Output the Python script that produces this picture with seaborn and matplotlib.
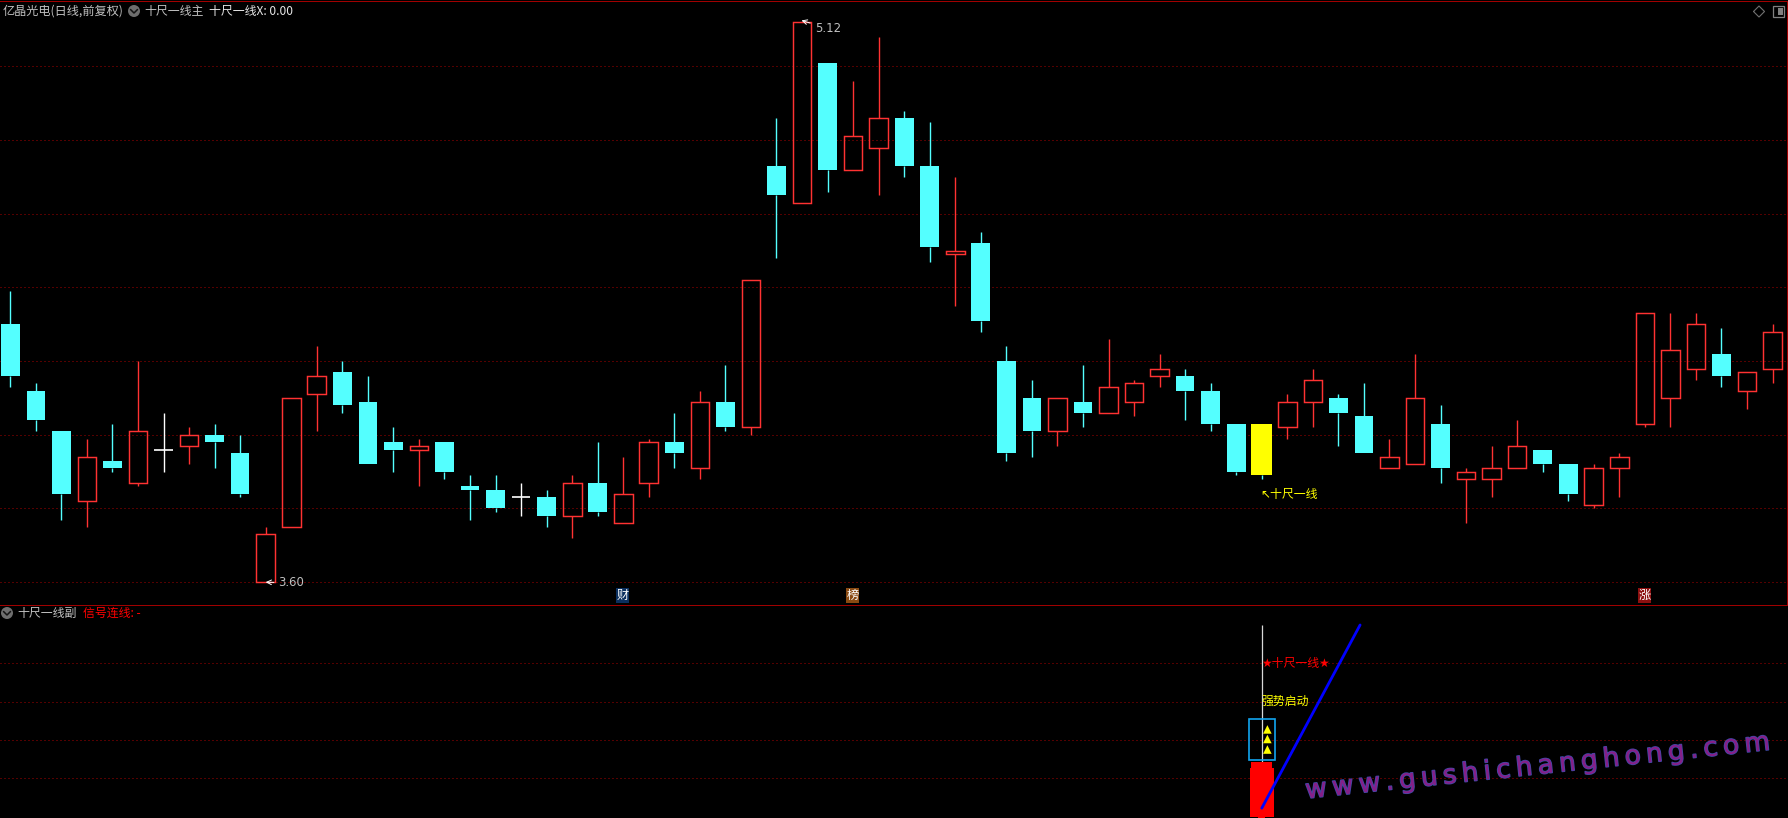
import matplotlib
matplotlib.use("Agg")
import matplotlib.pyplot as plt
import matplotlib.patheffects as pe
from matplotlib.lines import Line2D
from matplotlib.patches import Ellipse, Rectangle
import pandas as pd
import seaborn as sns

sns.set_theme(style="dark")
plt.rcParams['font.family'] = ['Noto Sans CJK SC', 'DejaVu Sans']

# Daily prices (first bars on the left to last bars on the right)
opens = [4.30,4.12,4.01,3.82,3.93,3.87,3.96,3.97,4.00,3.95,3.60,3.75,4.11,4.17,4.09,3.98,3.96,3.98,3.86,3.85,
         3.83,3.83,3.78,3.87,3.76,3.87,3.98,3.91,4.09,4.02,4.73,4.63,5.01,4.72,4.78,4.86,4.73,4.49,4.52,4.20,
         4.10,4.01,4.09,4.06,4.09,4.16,4.16,4.12,4.03,4.03,4.02,4.09,4.10,4.05,3.91,3.92,4.03,3.88,3.88,3.91,
         3.96,3.92,3.81,3.91,4.03,4.10,4.18,4.22,4.12,4.18]
closes = [4.16,4.04,3.84,3.94,3.91,4.01,3.96,4.00,3.98,3.84,3.73,4.10,4.16,4.08,3.92,3.96,3.97,3.90,3.85,3.80,
          3.83,3.78,3.87,3.79,3.84,3.98,3.95,4.09,4.02,4.42,4.65,5.12,4.72,4.81,4.86,4.73,4.51,4.50,4.31,3.95,
          4.01,4.10,4.06,4.13,4.14,4.18,4.12,4.03,3.90,3.89,4.09,4.15,4.06,3.95,3.94,4.10,3.91,3.90,3.91,3.97,
          3.92,3.84,3.91,3.94,4.33,4.23,4.30,4.16,4.17,4.28]
highs = [4.39,4.14,4.01,3.99,4.03,4.20,4.06,4.02,4.03,4.00,3.75,4.10,4.24,4.20,4.16,4.02,3.99,3.98,3.89,3.89,
         3.87,3.85,3.89,3.98,3.94,3.99,4.06,4.12,4.19,4.42,4.86,5.12,5.01,4.96,5.08,4.88,4.85,4.70,4.55,4.24,
         4.15,4.10,4.19,4.26,4.15,4.22,4.18,4.14,4.03,4.03,4.11,4.18,4.11,4.14,3.99,4.22,4.08,3.91,3.97,4.04,
         3.96,3.92,3.92,3.95,4.33,4.33,4.33,4.29,4.17,4.30]
lows = [4.13,4.01,3.77,3.75,3.90,3.86,3.90,3.92,3.91,3.83,3.60,3.75,4.01,4.06,3.92,3.90,3.86,3.88,3.77,3.79,
        3.78,3.75,3.72,3.78,3.76,3.83,3.91,3.88,4.01,4.00,4.48,4.63,4.66,4.72,4.65,4.70,4.47,4.35,4.28,3.93,
        3.94,3.97,4.02,4.06,4.05,4.13,4.04,4.01,3.89,3.88,3.99,4.02,3.97,3.95,3.91,3.92,3.87,3.76,3.83,3.91,
        3.90,3.82,3.80,3.83,4.02,4.02,4.15,4.13,4.07,4.14]

price_grid = [3.6, 3.8, 4.0, 4.2, 4.4, 4.6, 4.8, 5.0]
signal_grid = [20, 40, 60, 80]
signal_day = 49
signal_line_x = [49, 52.85]
signal_line_y = [4.4, 100]
triangle_levels = [35, 40.5, 45.5]
block_low, block_mid, block_high = 0, 25.3, 28.5
price_low, price_high = 3.60, 5.12
low_day, high_day = 10, 31
badge_days = [24, 33, 64]
badge_labels = ['财', '榜', '涨']
badge_colors = ['#0b2f5e', '#8a4a12', '#8c1010']

df = pd.DataFrame({'open': opens, 'close': closes, 'high': highs, 'low': lows})
df['day'] = range(len(df))

RED, CYAN, YELLOW, GREY = '#ff3232', '#54ffff', '#ffff00', '#c0c0c0'
GRID = '#a80000'
W, H = 1788, 818
fig = plt.figure(figsize=(W / 100, H / 100), dpi=100, facecolor='black')
top = fig.add_axes([0, 1 - 605 / H, 1, 603 / H])
bot = fig.add_axes([0, 0, 1, 212 / H])
xlim = (-10.3 / 25.54, (W - 10.3) / 25.54)
for ax in (top, bot):
    ax.set_facecolor('black')
    ax.set_xlim(*xlim)
    ax.set_xticks([]); ax.set_yticks([])
    ax.set_xlabel(''); ax.set_ylabel('')
    for s in ax.spines.values():
        s.set_visible(False)
top.set_ylim(3.538, 5.175)
bot.set_ylim(-0.73, 109.9)

for v in price_grid:
    top.axhline(v, color=GRID, lw=0.72, ls=(0, (1, 3)), zorder=1)
for v in signal_grid:
    bot.axhline(v, color=GRID, lw=0.72, ls=(0, (1, 3)), zorder=1)

# candles
bw = 0.73
for r in df.itertuples():
    t, b = max(r.open, r.close), min(r.open, r.close)
    if r.open == r.close:
        c = 'white'
        top.vlines(r.day, r.low, r.high, color=c, lw=1.0, zorder=3)
        top.hlines(t, r.day - bw / 2, r.day + bw / 2, color=c, lw=1.2, zorder=3)
        continue
    up = r.close > r.open
    c = RED if up else CYAN
    top.vlines(r.day, t, r.high, color=c, lw=1.0, zorder=3)
    top.vlines(r.day, r.low, b, color=c, lw=1.0, zorder=3)
    if r.day == signal_day:
        # the highlighted day is drawn below as solid yellow
        continue
    if up:
        top.add_patch(Rectangle((r.day - bw / 2, b), bw, t - b, fill=False, ec=c, lw=1.05, zorder=4))
    else:
        top.add_patch(Rectangle((r.day - bw / 2, b), bw, t - b, fc=c, ec='none', zorder=4))
sd = df.loc[signal_day]
top.bar(signal_day, abs(sd.open - sd.close), bottom=min(sd.open, sd.close), width=0.82,
        color=YELLOW, lw=0, zorder=5)

# price extremes
top.annotate('%.2f' % price_low, xy=(low_day, price_low), xytext=(low_day + 0.50, price_low - 0.002),
             color=GREY, fontsize=8.4, va='center', ha='left', family='DejaVu Sans', zorder=6,
             arrowprops=dict(arrowstyle='->', color='white', lw=0.7, shrinkA=1, shrinkB=0))
top.annotate('%.2f' % price_high, xy=(high_day - 0.02, price_high + 0.005), xytext=(high_day + 0.50, price_high - 0.017),
             color=GREY, fontsize=8.4, va='center', ha='left', family='DejaVu Sans', zorder=6,
             arrowprops=dict(arrowstyle='->', color='white', lw=0.7, shrinkA=1, shrinkB=0))
top.text(signal_day - 0.05, 3.838, '↖十尺一线', color=YELLOW, fontsize=8.6, va='center', ha='left',
         family=['DejaVu Sans', 'Noto Sans CJK SC'], zorder=6)

# event badges
for d, lab, col in zip(badge_days, badge_labels, badge_colors):
    top.text(d - 0.02, 3.546, lab, color='white', fontsize=8.8, ha='center', va='bottom', zorder=6,
             bbox=dict(boxstyle='square,pad=0.05', fc=col, ec='none'))

# lower panel
bot.vlines(signal_day, block_high, 100.2, color='#d8d8d8', lw=0.9, zorder=2)
bot.bar(signal_day, block_high - block_low, bottom=block_low, width=0.82, color='#ff0000', lw=0, zorder=3)
bot.bar(signal_day, block_mid - block_low, bottom=block_low, width=0.93, color='#ff0000', lw=0, zorder=3)
bot.bar(signal_day, 1.5, bottom=-1.0, width=0.28, color='#ff0000', lw=0, zorder=3)
bot.add_patch(Rectangle((signal_day - 0.51, 29.3), 1.02, 21.6, fill=False, ec='#12a5f0', lw=1.2, zorder=4))
tri = pd.DataFrame({'x': [signal_day + 0.22] * 3, 'y': triangle_levels})
sns.scatterplot(data=tri, x='x', y='y', marker='^', s=38, color=YELLOW, edgecolor='none', ax=bot, zorder=5, legend=False)
line = pd.DataFrame({'x': signal_line_x, 'y': signal_line_y})
sns.lineplot(data=line, x='x', y='y', color='#0000ff', lw=2.0, ax=bot, zorder=6, legend=False)
bot.set_xlabel(''); bot.set_ylabel('')
bot.set_xlim(*xlim); bot.set_ylim(-0.73, 109.9)
bot.text(signal_day - 0.02, 80, '★十尺一线★', color='#ff0000', fontsize=8.6, va='center', ha='left',
         family=['DejaVu Sans', 'Noto Sans CJK SC'], zorder=7)
bot.text(signal_day - 0.02, 60, '强势启动', color=YELLOW, fontsize=8.6, va='center', ha='left', zorder=7)

# header texts
def ftext(px, py, s, color, **kw):
    fig.text(px / W, 1 - py / H, s, color=color, fontsize=kw.pop('fontsize', 8.6), va='center', ha='left', **kw)

def chevron(px, py):
    fig.add_artist(Ellipse((px / W, 1 - py / H), 12 / W, 12 / H, fc='#6e6e6e', ec='none',
                           transform=fig.transFigure))
    fig.add_artist(Line2D([(px - 3.5) / W, px / W, (px + 3.5) / W],
                          [1 - (py - 1.5) / H, 1 - (py + 2) / H, 1 - (py - 1.5) / H],
                          color='#141414', lw=1.1, transform=fig.transFigure))

ftext(3, 11, '亿晶光电(日线,前复权)', GREY, fontsize=8.75)
chevron(134, 11)
ftext(144, 11, '十尺一线主', GREY)
ftext(209, 11, '十尺一线X: 0.00', '#e6e6e6')
chevron(7, 613)
ftext(17, 613, '十尺一线副', GREY)
ftext(83, 613, '信号连线: -', '#ff0000')

fig.add_artist(Line2D([1753.5 / W, 1759 / W, 1764.5 / W, 1759 / W, 1753.5 / W],
                      [1 - 11.5 / H, 1 - 6 / H, 1 - 11.5 / H, 1 - 17 / H, 1 - 11.5 / H],
                      color='#707070', lw=0.8, transform=fig.transFigure))
fig.patches.append(Rectangle((1772.5 / W, 1 - 17 / H), 11 / W, 11 / H, fill=False, ec='#808080', lw=0.9,
                             transform=fig.transFigure))
fig.patches.append(Rectangle((1778 / W, 1 - 15 / H), 4.5 / W, 7 / H, fc='#808080', ec='none',
                             transform=fig.transFigure))

# frame
fig.patches.append(Rectangle((0, 1 - 2 / H), 1, 1 / H, fc='#a00000', ec='none', transform=fig.transFigure))
fig.patches.append(Rectangle((0, 1 - 606 / H), 1, 1 / H, fc='#a00000', ec='none', transform=fig.transFigure))
fig.patches.append(Rectangle((1 - 1.5 / W, 1 - 606 / H), 1 / W, 604 / H, fc='#a00000', ec='none', transform=fig.transFigure))

# watermark
wm = '\u2009'.join('www.gushichanghong.com')
t = fig.text(1538 / W, 1 - 767 / H, wm, color='#861f88', fontsize=19, rotation=6.0, ha='center', va='center',
             family='DejaVu Sans', rotation_mode='anchor', zorder=20)
t.set_path_effects([pe.withStroke(linewidth=1.1, foreground='#3f4aa8')])

fig.savefig('out.png', dpi=100, facecolor='black')
